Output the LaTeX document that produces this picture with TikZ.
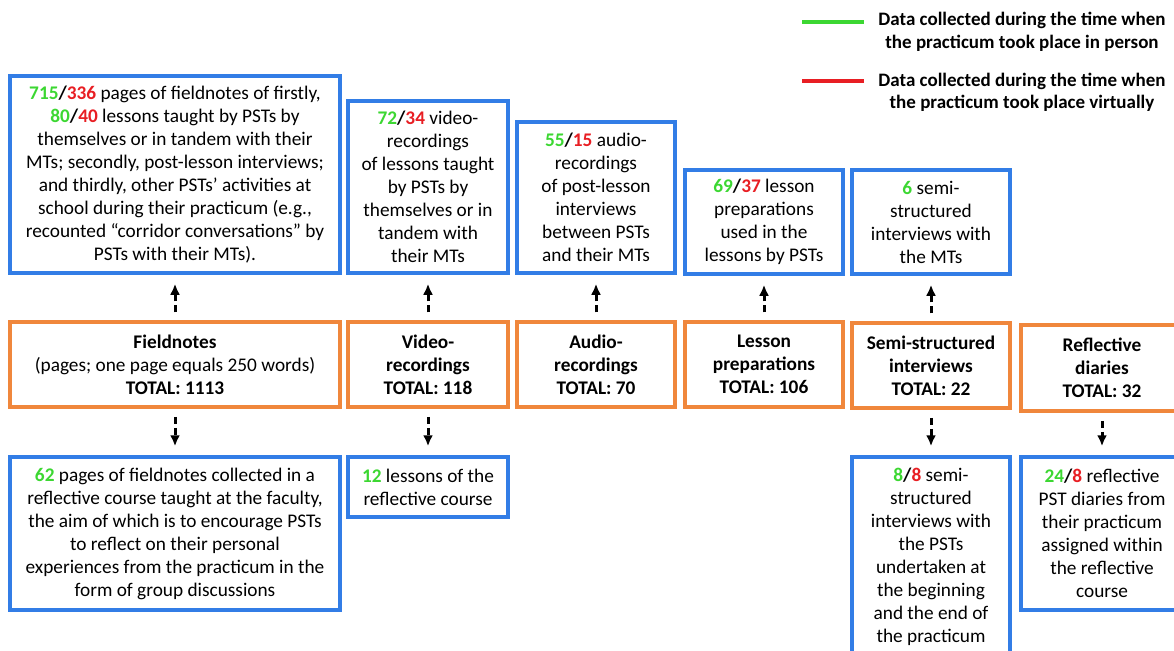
\documentclass[tikz,border=0pt]{standalone}
\usepackage{fontspec}
\setmainfont{Carlito}
\usetikzlibrary{arrows.meta}
\definecolor{boxblue}{RGB}{50,125,230}
\definecolor{boxorange}{RGB}{240,135,60}
\definecolor{ingreen}{RGB}{60,215,50}
\definecolor{virtred}{RGB}{232,30,35}
\newcommand{\pers}[1]{\textbf{\textcolor{ingreen}{#1}}}
\newcommand{\tally}[2]{\textbf{\textcolor{ingreen}{#1}/\textcolor{virtred}{#2}}}
\tikzset{
  databox/.style={draw=boxblue, line width=3.5pt, align=center, inner sep=0pt,
    font=\fontsize{19.3}{23}\selectfont},
  typebox/.style={draw=boxorange, line width=3.5pt, align=center, inner sep=0pt,
    font=\fontsize{19.3}{23}\selectfont},
  link/.style={line width=3pt, dash pattern=on 7pt off 4pt,
    -{Latex[length=11pt,width=10pt]}, shorten <=8pt, shorten >=9pt},
  legtext/.style={align=center, font=\fontsize{19}{22.5}\selectfont\bfseries},
}

\begin{document}
\begin{tikzpicture}[x=1pt, y=-1pt]
		%%%%% START %%%%%
		\clip (0,0) rectangle (1174,650);
		
		% legend
		\draw[line width=3.5pt, color=ingreen] (802,22) -- (864,22);
		\node[legtext] (leginperson) at (1022,32) {Data collected during the time when\\the practicum took place in person};
		\draw[line width=3.5pt, color=virtred] (802,81) -- (864,81);
		\node[legtext] (legvirtual) at (1022,92.5) {Data collected during the time when\\the practicum took place virtually};
		
		% upper data boxes
		\node[databox, minimum width=330pt, minimum height=197pt] (fieldA) at (175,174.5)
			{\tally{715}{336} pages of fieldnotes of firstly,\\ \tally{80}{40} lessons taught by PSTs by\\ themselves or in tandem with their\\ MTs; secondly, post-lesson interviews;\\ and thirdly, other PSTs’ activities at\\ school during their practicum (e.g.,\\ recounted “corridor conversations” by\\ PSTs with their MTs).};
		\node[databox, minimum width=160pt, minimum height=172pt] (videoA) at (428,187)
			{\tally{72}{34} video-\\recordings\\of lessons taught\\by PSTs by\\themselves or in\\tandem with\\their MTs};
		\node[databox, minimum width=158pt, minimum height=151pt] (audioA) at (596,197.5)
			{\tally{55}{15} audio-\\recordings\\of post-lesson\\interviews\\between PSTs\\and their MTs};
		\node[databox, minimum width=158pt, minimum height=104pt] (lessonA) at (764,222)
			{\tally{69}{37} lesson\\preparations\\used in the\\lessons by PSTs};
		\node[databox, minimum width=158pt, minimum height=104pt] (interA) at (931,222)
			{\pers{6} semi-\\structured\\interviews with\\the MTs};
		
		% data types
		\node[typebox, minimum width=330pt, minimum height=85pt] (field) at (175,364.5)
			{\textbf{Fieldnotes}\\(pages; one page equals 250 words)\\\textbf{TOTAL: 1113}};
		\node[typebox, minimum width=160pt, minimum height=85pt, font=\fontsize{19.3}{23}\selectfont\bfseries] (video) at (428,364.5)
			{Video-\\recordings\\TOTAL: 118};
		\node[typebox, minimum width=158pt, minimum height=85pt, font=\fontsize{19.3}{23}\selectfont\bfseries] (audio) at (596,364.5)
			{Audio-\\recordings\\TOTAL: 70};
		\node[typebox, minimum width=158pt, minimum height=85pt, font=\fontsize{19.3}{23}\selectfont\bfseries] (lesson) at (764,364.5)
			{Lesson\\preparations\\TOTAL: 106};
		\node[typebox, minimum width=158pt, minimum height=85pt, font=\fontsize{19.3}{23}\selectfont\bfseries] (inter) at (931,365.5)
			{Semi-structured\\interviews\\TOTAL: 22};
		\node[typebox, minimum width=162pt, minimum height=86pt, font=\fontsize{19.3}{23}\selectfont\bfseries] (diary) at (1102,368)
			{Reflective\\diaries\\TOTAL: 32};
		
		% lower data boxes
		\node[databox, minimum width=330pt, minimum height=153pt] (fieldB) at (175,533.5)
			{\pers{62} pages of fieldnotes collected in a\\reflective course taught at the faculty,\\the aim of which is to encourage PSTs\\to reflect on their personal\\experiences from the practicum in the\\form of group discussions};
		\node[databox, minimum width=160pt, minimum height=60pt] (videoB) at (428,487)
			{\pers{12} lessons of the\\reflective course};
		\node[databox, minimum width=158pt, minimum height=200pt] (interB) at (931,557)
			{\tally{8}{8} semi-\\structured\\interviews with\\the PSTs\\undertaken at\\the beginning\\and the end of\\the practicum};
		\node[databox, minimum width=162pt, minimum height=153pt] (diaryB) at (1102,533.5)
			{\tally{24}{8} reflective\\PST diaries from\\their practicum\\assigned within\\the reflective\\course};
		
		% arrows
		\foreach \a/\b in {field/fieldA, video/videoA, audio/audioA, lesson/lessonA, inter/interA}
			\draw[link] (\a.north) -- (\b.south);
		\foreach \a/\b in {field/fieldB, video/videoB, inter/interB, diary/diaryB}
			\draw[link] (\a.south) -- (\b.north);
		
		%%%%% END %%%%%
	\end{tikzpicture}
\end{document}
